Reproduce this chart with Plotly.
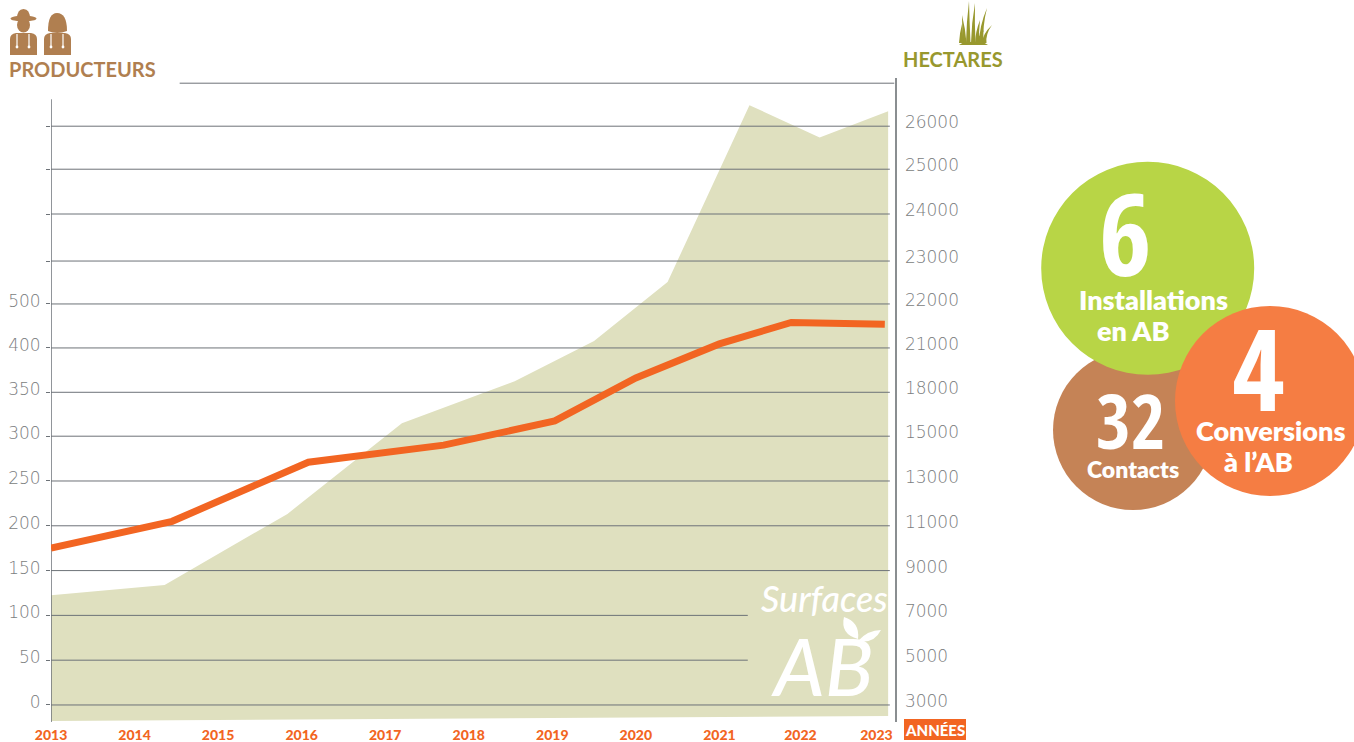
import numpy as np
import plotly.graph_objects as go

W, H = 1354, 742

# ---- data ----
grid_levels = [0, 50, 100, 150, 200, 250, 300, 349, 398.5, 447.6, 495.5, 548, 598, 646]
producer_labels = ["0", "50", "100", "150", "200", "250", "300", "350", "400", "500"]
hectare_ticks = [3000, 5000, 7000, 9000, 11000, 13000, 15000, 18000, 21000, 22000, 23000, 24000, 25000, 26000]
years = ["2013", "2014", "2015", "2016", "2017", "2018", "2019", "2020", "2021", "2022", "2023"]
year_positions = [2013, 2014, 2015, 2016, 2017, 2018, 2019, 2020, 2021, 2021.97, 2022.88]

area_x = [2013, 2014.36, 2015.83, 2017.2, 2018.55, 2019.5, 2020.38, 2021.36, 2022.2, 2023.02]
area_hectares = [7900, 8360, 11530, 15890, 18750, 21160, 22510, 26480, 25740, 26340]
area_floor_hectares = [2290, 2320, 2350, 2370, 2400, 2420, 2440, 2460, 2490, 2510]

line_x = [2013, 2014.45, 2016.08, 2017.7, 2019.03, 2020, 2021, 2021.86, 2022.98]
line_producers = [175, 205, 271, 290, 317, 365, 403, 427, 425]

# piecewise hectare scale of the original chart (outer points only continue the scale)
scale_h = [1000] + hectare_ticks + [27000]
scale_l = [-50] + grid_levels + [695]
to_level = lambda h: np.interp(h, scale_h, scale_l).tolist()

TOP_RULE = 694
Y_RANGE = [-19, 699.8]
X_RANGE = [2013, 2023.096]
GRID_END = 2023.04
GREY = "#6d7278"
LABEL = "#7b7d80"
ORANGE = "#f26522"
BROWN = "#b07f50"
OLIVE = "#98982e"

fig = go.Figure()

# area
fig.add_trace(go.Scatter(x=area_x, y=to_level(area_floor_hectares), mode="lines",
                         line=dict(width=0), hoverinfo="skip", showlegend=False))
fig.add_trace(go.Scatter(x=area_x, y=to_level(area_hectares), mode="lines", fill="tonexty",
                         fillcolor="#dfe0bf", line=dict(width=0), showlegend=False, name="Hectares"))

# grid drawn over the area
gx, gy = [], []
for lv in grid_levels:
    end = 2021.34 if lv in (50, 100) else GRID_END
    gx += [2013, end, None]
    gy += [lv, lv, None]
gx += [2014.54, 2023.096, None]
gy += [TOP_RULE, TOP_RULE, None]
fig.add_trace(go.Scatter(x=gx, y=gy, mode="lines", line=dict(color=GREY, width=1),
                         hoverinfo="skip", showlegend=False, cliponaxis=False))
fig.add_trace(go.Scatter(x=[2013, 2013], y=[-19, 676], mode="lines", line=dict(color=GREY, width=1.5),
                         hoverinfo="skip", showlegend=False, cliponaxis=False))

# producers line (left axis)
fig.add_trace(go.Scatter(x=line_x, y=line_producers, yaxis="y2", mode="lines",
                         line=dict(color=ORANGE, width=7), showlegend=False, name="Producteurs"))

tick_font = dict(family="DejaVu Sans", size=17, color=LABEL, weight=200)
fig.update_layout(
    width=W, height=H, margin=dict(l=0, r=0, t=0, b=0), autosize=False,
    paper_bgcolor="white", plot_bgcolor="white", showlegend=False,
    xaxis=dict(domain=[51 / W, 894.5 / W], range=X_RANGE, tickvals=year_positions, ticktext=years,
               showgrid=False, zeroline=False, ticks="", ticklabelstandoff=3, automargin=False,
               tickfont=dict(family="Lato", size=14, color=ORANGE, weight=900), tickangle=0),
    yaxis=dict(domain=[(H - 722) / H, (H - 78) / H], range=Y_RANGE, side="right", anchor="x",
               tickvals=grid_levels, ticktext=[f"{v}" for v in hectare_ticks], showgrid=False, zeroline=False,
               showline=True, linecolor="#8a8e91", linewidth=2, ticks="", ticklabelstandoff=5, automargin=False,
               ticklabelshift=-4, tickfont=tick_font),
    yaxis2=dict(overlaying="y", side="left", anchor="x", range=Y_RANGE, tickvals=grid_levels,
                ticktext=producer_labels + [""] * 4, showgrid=False, zeroline=False,
                showline=False, ticks="outside", ticklen=4, tickcolor=GREY, tickwidth=1, automargin=False,
                ticklabelstandoff=2, ticklabelshift=-3, tickfont=tick_font),
)

# ---- decoration helpers (page pixels) ----
def fx(v): return v / W
def fy(v): return 1 - v / H

def circle(cx, cy, r, color):
    fig.add_shape(type="circle", xref="paper", yref="paper", x0=fx(cx - r), x1=fx(cx + r),
                  y0=fy(cy + r), y1=fy(cy - r), fillcolor=color, line_width=0, layer="above")

def path(points, color):
    parts = []
    for tok in points:
        if isinstance(tok, str):
            parts.append(tok)
        else:
            parts.append(f"{fx(tok[0]):.5f},{fy(tok[1]):.5f}")
    fig.add_shape(type="path", xref="paper", yref="paper", path=" ".join(parts),
                  fillcolor=color, line_width=0, layer="above")

def text(x, y, s, size, color="white", family="Lato", weight=400, style="normal"):
    fig.add_annotation(xref="paper", yref="paper", x=fx(x), y=fy(y), text=s, showarrow=False,
                       xanchor="center", yanchor="middle",
                       font=dict(family=family, size=size, color=color, weight=weight, style=style))

# circles
circle(1133, 430, 80, "#c58356")
circle(1147.7, 268.3, 106.5, "#b8d546")
circle(1270, 401, 95, "#f57d43")

NUM = "Noto Sans Condensed, Open Sans Condensed, Roboto Condensed, Lato"
text(1125, 231, "6", 114, family=NUM, weight=200)
text(1153, 300, "Installations", 27, weight=800)
text(1133, 331, "en AB", 27, weight=800)
text(1130, 420, "32", 75, family=NUM, weight=200)
text(1133, 469, "Contacts", 23, weight=800)
text(1258, 366, "4", 114, family=NUM, weight=200)
text(1270, 430, "Conversions", 27, weight=800)
text(1258, 461, "à l’AB", 27, weight=800)

# headings
text(82, 69, "PRODUCTEURS", 20, color=BROWN, family="Lato", weight=700)
text(953, 59, "HECTARES", 20, color=OLIVE, family="Lato", weight=700)

# années tag
fig.add_shape(type="rect", xref="paper", yref="paper", x0=fx(904), x1=fx(966), y0=fy(740), y1=fy(719),
              fillcolor=ORANGE, line_width=0, layer="above")
text(935, 730, "ANNÉES", 15, weight=900)

# surfaces AB
text(824, 598, "Surfaces", 36, family="Lato", weight=500, style="italic")
text(822, 665, "AB", 80, family="Lato", weight=500, style="italic")
path(["M", (844, 617), "Q", (860, 622), (858, 639), "Q", (840, 634), (844, 617), "Z"], "white")
path(["M", (858, 641), "Q", (868, 630), (881, 630), "Q", (874, 644), (858, 641), "Z"], "white")

# farmer icons
def body(x0, x1, strap_a, strap_b):
    path(["M", (x0, 55), "L", (x0, 39), "Q", (x0, 34), (x0 + 6, 33), "L", (x1 - 6, 33), "Q", (x1, 34), (x1, 39),
          "L", (x1, 55), "Z"], BROWN)
    for s in (strap_a, strap_b):
        path(["M", (s - 0.6, 34), "L", (s + 0.6, 34), "L", (s + 0.6, 46), "L", (s - 0.6, 46), "Z"], "white")
        circle(s, 47, 1.4, "white")

def ell(cx, cy, rx, ry, color):
    fig.add_shape(type="circle", xref="paper", yref="paper", x0=fx(cx - rx), x1=fx(cx + rx),
                  y0=fy(cy + ry), y1=fy(cy - ry), fillcolor=color, line_width=0, layer="above")

body(10, 37, 17, 29)
ell(23.5, 25, 6.5, 7.5, BROWN)
path(["M", (17, 19), "Q", (17, 9), (23.5, 9), "Q", (30, 9), (30, 19), "Z"], BROWN)
ell(23.5, 18.5, 13, 3, BROWN)

body(44, 71, 51, 63)
path(["M", (48, 31), "Q", (48, 13), (57, 13), "Q", (67, 13), (67, 31), "Q", (57, 35), (48, 31), "Z"], BROWN)

# grass icon
base_y = 43
for tip, b0 in [((962, 15), 964), ((969, 1), 968), ((975, 3), 973), ((980, 20), 977),
                ((987, 8), 981), ((992, 25), 984), ((962, 24), 961), ((984, 30), 979)]:
    path(["M", (b0 - 2, base_y), "Q", (b0 - 1.5, (tip[1] + base_y) / 2), tip,
          "Q", (b0 + 1.5, (tip[1] + base_y) / 2), (b0 + 2.5, base_y), "Z"], OLIVE)
path(["M", (959, 45), "L", (988, 45), "L", (983, 42), "L", (964, 42), "Z"], OLIVE)

fig.write_html("out.html", config=dict(displayModeBar=False),
               post_script="document.body.style.margin='0';document.body.style.overflow='hidden';")
